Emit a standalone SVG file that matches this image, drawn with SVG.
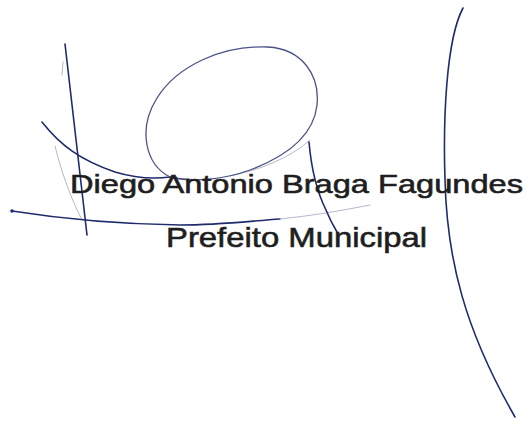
<svg xmlns="http://www.w3.org/2000/svg" width="527" height="429" viewBox="0 0 527 429">
<style>
.ink{fill:none;stroke:#1f2b6b;stroke-width:1.6;stroke-linecap:round;stroke-linejoin:round}
.light{fill:none;stroke:#4b5285;stroke-width:1.3;stroke-linecap:round}
.faint{fill:none;stroke:#b4b8cc;stroke-width:1;stroke-linecap:round}
.t{font-family:"Liberation Sans",Arial,sans-serif;fill:#1e1e1e;stroke:#1e1e1e;stroke-width:0.6}
</style>
<rect width="527" height="429" fill="#ffffff"/>
<g id="signature">
<path class="faint" d="M55 146 C62 175 72 200 82 220"/>
<path class="faint" d="M310 140 C290 158 260 170 230 176"/>
<path class="ink" d="M65 44 C70 90 78 160 87 235"/>
<path class="faint" d="M63 62 L62 75"/>
<path class="ink" d="M42 122 C60 145 80 160 115 172 C135 178 155 179 170 177"/>
<path class="light" d="M170 177 C146 165 137 130 157 98 C177 66 222 45 268 47 C302 49 320 75 317 105 C314 133 290 155 250 170 C225 179 195 183 170 177"/>
<path class="ink" d="M12 211 C50 217 110 224 180 225 C220 225 250 221 280 219"/>
<path class="faint" d="M280 219 C310 216 340 211 370 205"/>
<circle cx="12" cy="211" r="1.8" fill="#1f2b6b"/>
<path class="ink" d="M309 142 C311 165 316 190 326 210 C330 220 334 227 337 232"/>
<path class="ink" d="M463 8 C446 40 443 120 445 180 C447 260 465 330 515 417"/>
</g>
<g id="labels">
<text class="t" x="70" y="193" font-size="26.5" textLength="453" lengthAdjust="spacingAndGlyphs">Diego Antonio Braga Fagundes</text>
<text class="t" x="166" y="247" font-size="28.5" textLength="261" lengthAdjust="spacingAndGlyphs">Prefeito Municipal</text>
</g>
</svg>
